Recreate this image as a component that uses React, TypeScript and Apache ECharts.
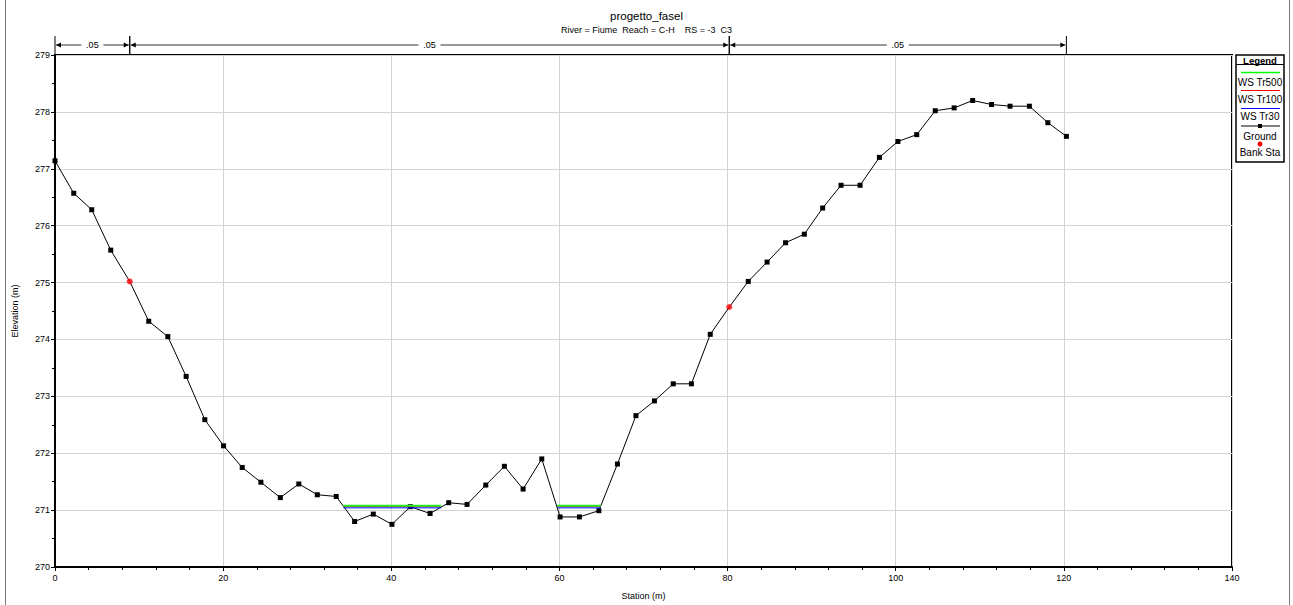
import React, { useEffect, useRef } from "react";
import * as echarts from "echarts";

const stations = [0, 2.23, 4.37, 6.63, 8.89, 11.15, 13.42, 15.6, 17.82, 20.05, 22.27, 24.49, 26.8, 29.0, 31.2, 33.45, 35.64, 37.86, 40.08, 42.26, 44.61, 46.83, 49.01, 51.24, 53.45, 55.68, 57.9, 60.08, 62.38, 64.69, 66.9, 69.1, 71.3, 73.54, 75.7, 77.94, 80.2, 82.46, 84.7, 86.9, 89.13, 91.31, 93.5, 95.76, 98.06, 100.26, 102.5, 104.7, 106.95, 109.15, 111.4, 113.6, 115.9, 118.1, 120.3];
const elevations = [277.14, 276.57, 276.28, 275.57, 275.02, 274.32, 274.05, 273.35, 272.59, 272.13, 271.75, 271.49, 271.22, 271.46, 271.27, 271.24, 270.8, 270.93, 270.75, 271.06, 270.94, 271.13, 271.1, 271.44, 271.77, 271.37, 271.9, 270.88, 270.88, 270.99, 271.81, 272.66, 272.92, 273.22, 273.22, 274.09, 274.57, 275.02, 275.36, 275.7, 275.85, 276.31, 276.71, 276.71, 277.2, 277.48, 277.6, 278.02, 278.07, 278.2, 278.13, 278.1, 278.1, 277.81, 277.57];
const bankStations = [8.89, 80.2];
const bankElevations = [275.02, 274.57];

const wsNames = ["WS Tr100", "WS Tr30", "WS Tr500"];
const wsLevels = [271.065, 271.04, 271.075];
const wsColors = ["#ff0000", "#0000ff", "#22ee22"];
const wsWidths = [1, 1, 2];
const wetStarts = [34.3, 59.7];
const wetEnds = [45.95, 64.9];

const nBounds = [0, 8.89, 80.2, 120.3];
const nLabels = [".05", ".05", ".05"];

const xTicks = { min: 0, max: 140, interval: 20 };
const yTicks = { min: 270, max: 279, interval: 1 };

const FONT = "'Liberation Sans', Arial, sans-serif";

export default function App() {
  const ref = useRef<HTMLDivElement>(null);
  useEffect(() => {
    if (!ref.current) return;
    const chart = echarts.init(ref.current, undefined, { renderer: "svg" });

    const groundData = stations.map((s, i) =>
      bankStations.includes(s)
        ? { value: [s, elevations[i]], symbol: "none" }
        : [s, elevations[i]]
    );
    const bankData = bankStations.map((s, i) => [s, bankElevations[i]]);

    const wsSeries: any[] = [];
    wsNames.forEach((name, k) => {
      wetStarts.forEach((a, j) => {
        wsSeries.push({
          name,
          type: "line",
          data: [
            [a, wsLevels[k]],
            [wetEnds[j], wsLevels[k]],
          ],
          symbol: "none",
          lineStyle: { color: wsColors[k], width: wsWidths[k] },
          z: 3,
        });
      });
    });

    const nData = nLabels.map((l, i) => [nBounds[i], nBounds[i + 1], l]);

    const legendX = 1236;
    const legendY = 55;
    const legendW = 48;
    const cx = legendX + legendW / 2;
    const txt = (t: string, y: number, bold = false) => ({
      type: "text",
      x: cx,
      y,
      style: {
        text: t,
        fill: "#000",
        font: `${bold ? "bold 9.5px" : "10px"} ${FONT}`,
        textAlign: "center",
        textVerticalAlign: "middle",
      },
    });
    const hline = (y: number, color: string, w = 1) => ({
      type: "line",
      shape: { x1: legendX + 5, y1: y, x2: legendX + legendW - 4, y2: y },
      style: { stroke: color, lineWidth: w },
    });

    chart.setOption({
      animation: false,
      backgroundColor: "#fff",
      title: {
        text: "progetto_fasel",
        left: "center",
        top: 5,
        itemGap: 3,
        textStyle: { fontSize: 11.5, fontWeight: "normal", color: "#000", fontFamily: FONT },
        subtext: "River = Fiume\u00a0\u00a0Reach = C-H\u00a0\u00a0\u00a0\u00a0RS = -3\u00a0\u00a0C3",
        subtextStyle: { fontSize: 9, color: "#000", fontFamily: FONT },
      },
      grid: {
        left: 55,
        right: 61,
        top: 55,
        bottom: 33.5,
        show: true,
        borderColor: "#000",
        borderWidth: 2,
      },
      xAxis: {
        type: "value",
        min: xTicks.min,
        max: xTicks.max,
        interval: xTicks.interval,
        name: "Station (m)",
        nameLocation: "middle",
        nameGap: 24,
        nameTextStyle: { fontSize: 9, color: "#000", fontFamily: FONT },
        axisLine: { show: true, onZero: false, lineStyle: { color: "#000", width: 2 } },
        axisTick: { show: true, length: 4, lineStyle: { color: "#000" } },
        minorTick: { show: true, splitNumber: 5, length: 3, lineStyle: { color: "#000" } },
        splitLine: { show: true, lineStyle: { color: "#d3d3d3", width: 1 } },
        axisLabel: { fontSize: 9, color: "#000", margin: 6, fontFamily: FONT },
      },
      yAxis: {
        type: "value",
        min: yTicks.min,
        max: yTicks.max,
        interval: yTicks.interval,
        name: "Elevation (m)",
        nameLocation: "middle",
        nameGap: 36,
        nameTextStyle: { fontSize: 9, color: "#000", fontFamily: FONT },
        axisLine: { show: true, onZero: false, lineStyle: { color: "#000", width: 2 } },
        axisTick: { show: true, length: 4, lineStyle: { color: "#000" } },
        minorTick: { show: true, splitNumber: 2, length: 3, lineStyle: { color: "#000" } },
        splitLine: { show: true, lineStyle: { color: "#d3d3d3", width: 1 } },
        axisLabel: { fontSize: 9, color: "#000", margin: 5, fontFamily: FONT },
      },
      series: [
        {
          name: "Ground",
          type: "line",
          data: groundData,
          symbol: "rect",
          symbolSize: 5,
          lineStyle: { color: "#000", width: 1 },
          itemStyle: { color: "#000" },
          z: 2,
        },
        ...wsSeries,
        {
          name: "Bank Sta",
          type: "scatter",
          data: bankData,
          symbol: "circle",
          symbolSize: 6,
          itemStyle: { color: "#ff0000" },
          z: 4,
        },
        {
          name: "n values",
          type: "custom",
          clip: false,
          silent: true,
          data: nData,
          renderItem: (params: any, api: any) => {
            const a = api.coord([api.value(0), yTicks.max]);
            const b = api.coord([api.value(1), yTicks.max]);
            const top = a[1];
            const ly = top - 10;
            const mid = (a[0] + b[0]) / 2;
            const label = nLabels[params.dataIndex];
            const gap = 11;
            const col = "#333";
            const ah = 5;
            const aw = 2.5;
            return {
              type: "group",
              children: [
                { type: "line", shape: { x1: a[0], y1: top - 19, x2: a[0], y2: top }, style: { stroke: "#000", lineWidth: 1 } },
                { type: "line", shape: { x1: b[0], y1: top - 19, x2: b[0], y2: top }, style: { stroke: "#000", lineWidth: 1 } },
                { type: "line", shape: { x1: a[0] + 1, y1: ly, x2: mid - gap, y2: ly }, style: { stroke: col, lineWidth: 1 } },
                { type: "line", shape: { x1: mid + gap, y1: ly, x2: b[0] - 1, y2: ly }, style: { stroke: col, lineWidth: 1 } },
                { type: "polygon", shape: { points: [[a[0] + 1, ly], [a[0] + 1 + ah, ly - aw], [a[0] + 1 + ah, ly + aw]] }, style: { fill: "#000" } },
                { type: "polygon", shape: { points: [[b[0] - 1, ly], [b[0] - 1 - ah, ly - aw], [b[0] - 1 - ah, ly + aw]] }, style: { fill: "#000" } },
                {
                  type: "text",
                  x: mid,
                  y: ly,
                  style: { text: label, fill: "#000", font: `9px ${FONT}`, textAlign: "center", textVerticalAlign: "middle" },
                },
              ],
            };
          },
          z: 5,
        },
      ],
      graphic: [
        { type: "line", shape: { x1: 5.5, y1: 0, x2: 5.5, y2: 605 }, style: { stroke: "#777", lineWidth: 1 } },
        { type: "line", shape: { x1: 1289.5, y1: 0, x2: 1289.5, y2: 605 }, style: { stroke: "#777", lineWidth: 1 } },
        {
          type: "rect",
          shape: { x: legendX, y: legendY, width: legendW, height: 107 },
          style: { fill: "#fff", stroke: "#000", lineWidth: 1.5 },
        },
        { type: "line", shape: { x1: legendX, y1: 64.5, x2: legendX + legendW, y2: 64.5 }, style: { stroke: "#000", lineWidth: 1 } },
        txt("Legend", 60, true),
        hline(72.5, "#00ff00", 1.5),
        txt("WS Tr500", 82.5),
        hline(90.5, "#ff0000", 1),
        txt("WS Tr100", 99.5),
        hline(108.5, "#0000ff", 1),
        txt("WS Tr30", 116.5),
        hline(126, "#000", 1),
        { type: "rect", shape: { x: cx - 2, y: 124, width: 4, height: 4 }, style: { fill: "#000" } },
        txt("Ground", 136),
        { type: "circle", shape: { cx: cx, cy: 144, r: 2.5 }, style: { fill: "#ff0000" } },
        txt("Bank Sta", 152),
      ],
    });

    return () => chart.dispose();
  }, []);

  return (
    <div
      ref={ref}
      style={{ position: "fixed", left: 0, top: 0, width: 1293, height: 605, background: "#fff" }}
    />
  );
}
